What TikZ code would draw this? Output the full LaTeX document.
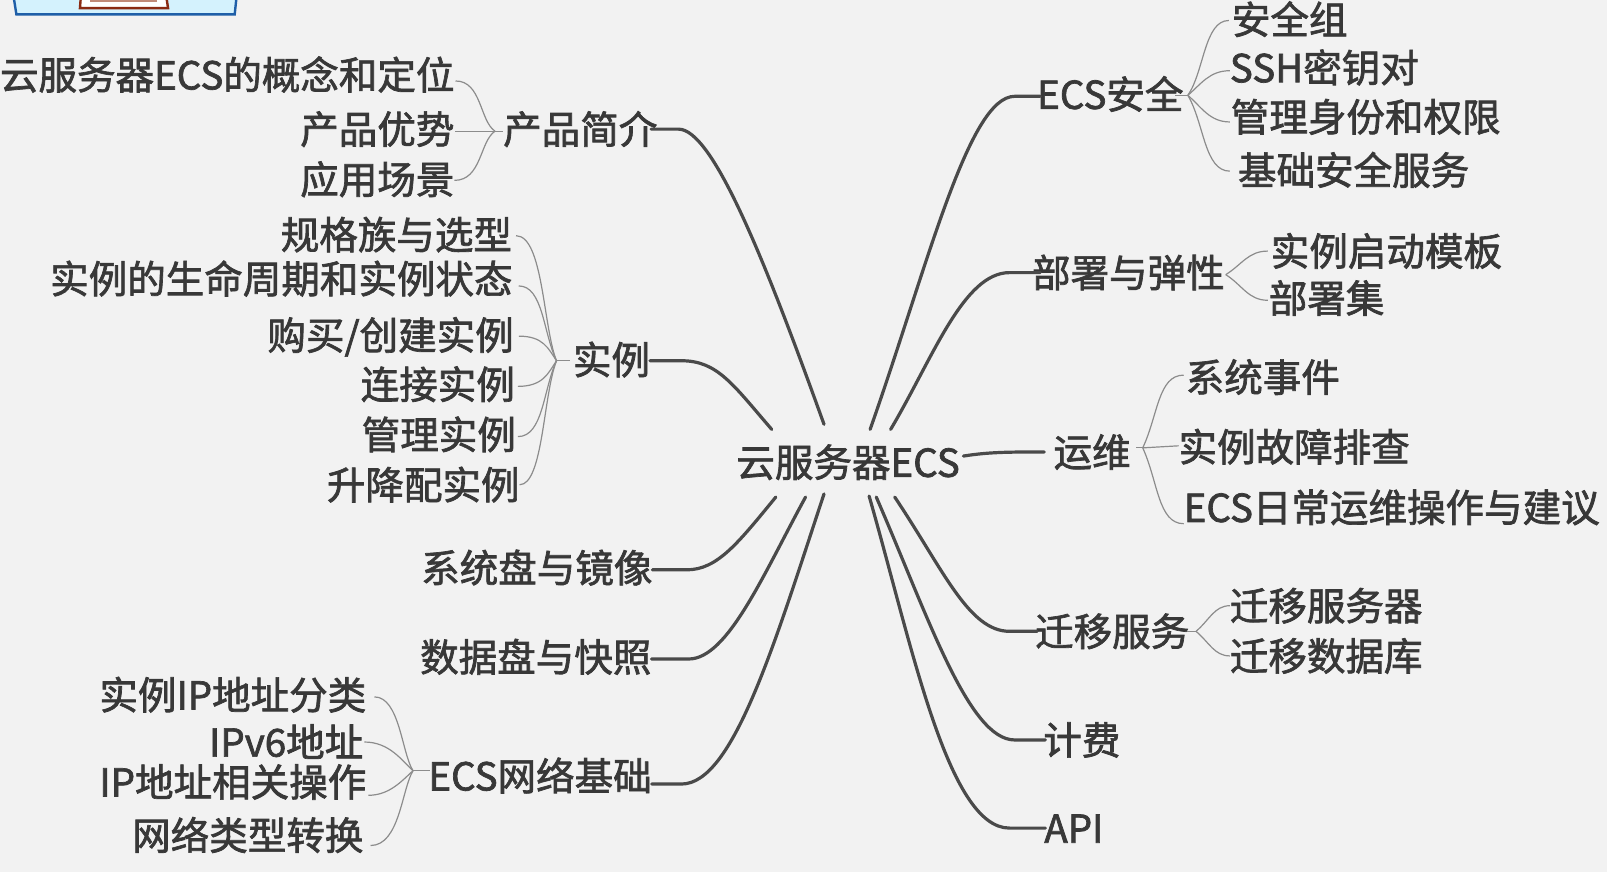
\documentclass[tikz,border=0pt]{standalone}
\usepackage{fontspec}
\setmainfont{Noto Sans CJK SC}[FakeBold=1.8]
\definecolor{bgc}{HTML}{F2F2F2}
\definecolor{txt}{HTML}{383838}
\definecolor{mainl}{HTML}{4A4A4A}
\definecolor{subl}{HTML}{8C8C8C}
\definecolor{fragfill}{HTML}{D4F2FD}
\definecolor{fragline}{HTML}{1F5FA8}
\definecolor{inline}{HTML}{8A2A12}
\definecolor{intan}{HTML}{C08A78}
\tikzset{
  lab/.style={inner sep=0pt,outer sep=0pt,text=txt,font=\fontsize{28.9pt}{30pt}\selectfont,text height=25.4pt,text depth=3.5pt,anchor=west},
  centerlab/.style={lab,anchor=center},
  mainc/.style={draw=mainl,line width=2.4pt,line cap=round},
  subc/.style={draw=subl,line width=0.9pt},
}
\begin{document}
\begin{tikzpicture}[x=0.76875pt,y=-0.76875pt]
\useasboundingbox[fill=bgc] (0,0) rectangle (1568,851);
% fragment at the top edge
\begin{scope}
\clip (0,0) rectangle (1568,851);
\filldraw[fill=fragfill,draw=fragline,line width=1.8pt] (13,-5) -- (16,14) -- (229,14) -- (231,-5) -- cycle;
\filldraw[fill=white,draw=inline,line width=1.8pt] (79,-5) -- (78,8) -- (164,8) -- (162,-5) -- cycle;
\fill[fill=intan] (88,-5) rectangle (153,2);
\end{scope}
% nodes
\node[centerlab] (c) at (827.5,451) {云服务器ECS};
\node[lab] (a) at (491,126) {产品简介};
\node[lab] (a1) at (0,73) {云服务器ECS的概念和定位};
\node[lab] (a2) at (293,126) {产品优势};
\node[lab] (a3) at (293,175) {应用场景};
\node[lab] (b) at (559,351) {实例};
\node[lab] (b1) at (274,229) {规格族与选型};
\node[lab] (b2) at (49,272) {实例的生命周期和实例状态};
\node[lab] (b3) at (261,327) {购买/创建实例};
\node[lab] (b4) at (352,375) {连接实例};
\node[lab] (b5) at (353,424) {管理实例};
\node[lab] (b6) at (319,473) {升降配实例};
\node[lab] (d) at (411,554) {系统盘与镜像};
\node[lab] (e) at (410,641) {数据盘与快照};
\node[lab] (f) at (418,757) {ECS网络基础};
\node[lab] (f1) at (97,678) {实例IP地址分类};
\node[lab] (f2) at (204,724) {IPv6地址};
\node[lab] (f3) at (97,763) {IP地址相关操作};
\node[lab] (f4) at (129,815) {网络类型转换};
\node[lab] (g) at (1012,92) {ECS安全};
\node[lab] (g1) at (1202,19) {安全组};
\node[lab] (g2) at (1200,66) {SSH密钥对};
\node[lab] (g3) at (1201,114) {管理身份和权限};
\node[lab] (g4) at (1208,166) {基础安全服务};
\node[lab] (h) at (1007,266) {部署与弹性};
\node[lab] (h1) at (1240,245) {实例启动模板};
\node[lab] (h2) at (1238,291) {部署集};
\node[lab] (i) at (1028,441) {运维};
\node[lab] (i1) at (1157,368) {系统事件};
\node[lab] (i2) at (1150,436) {实例故障排查};
\node[lab] (i3) at (1155,495) {ECS日常运维操作与建议};
\node[lab] (j) at (1010,616) {迁移服务};
\node[lab] (j1) at (1200,591) {迁移服务器};
\node[lab] (j2) at (1200,640) {迁移数据库};
\node[lab] (k) at (1018,722) {计费};
\node[lab] (l) at (1019,808) {API};
% main connectors
\draw[mainc] ([shift={(-23.5,-37)}]c.center) .. controls (745,250) and (695,126) .. (662,126) -- ([shift={(-6,0)}]a.east);
\draw[mainc] ([shift={(-74.5,-32)}]c.center) .. controls (715,375) and (700,352) .. (665,352) -- ([shift={(0,1)}]b.east);
\draw[mainc] ([shift={(-70.5,34)}]c.center) .. controls (720,530) and (700,556) .. (670,556) -- ([shift={(0,2)}]d.east);
\draw[mainc] ([shift={(-41.5,34)}]c.center) .. controls (745,560) and (710,643) .. (672,643) -- ([shift={(0,2)}]e.east);
\draw[mainc] ([shift={(-23.5,31)}]c.center) .. controls (755,630) and (715,765) .. (665,765) -- ([shift={(0,8)}]f.east);
\draw[mainc] ([shift={(21.5,-32)}]c.center) .. controls (905,260) and (945,94) .. (990,94) -- ([shift={(3,2)}]g.west);
\draw[mainc] ([shift={(41.5,-32)}]c.center) .. controls (910,350) and (940,266) .. (985,266) -- ([shift={(8,0)}]h.west);
\draw[mainc] ([shift={(112.5,-6)}]c.center) .. controls (965,441) and (985,441) .. ([shift={(-9,0)}]i.west);
\draw[mainc] ([shift={(45.5,34)}]c.center) .. controls (920,555) and (945,616) .. (985,616) -- ([shift={(2,0)}]j.west);
\draw[mainc] ([shift={(27.5,34)}]c.center) .. controls (905,600) and (945,722) .. (990,722) -- ([shift={(2,0)}]k.west);
\draw[mainc] ([shift={(20.5,33)}]c.center) .. controls (890,630) and (925,808) .. (985,808) -- ([shift={(1,0)}]l.west);
% hubs
\coordinate (ha) at (483,128);
\coordinate (hb) at (543,352);
\coordinate (hf) at (403,752);
\coordinate (hg) at (1159,93);
\coordinate (hh) at (1196,268);
\coordinate (hi) at (1115,437);
\coordinate (hj) at (1167,616);
% sub connectors, left side
\draw[subc] (ha) -- ([shift={(0,2)}]a.west);
\draw[subc] (ha) .. controls (468,118) and (470,79) .. ([shift={(1,6)}]a1.east);
\draw[subc] (ha) -- ([shift={(1,2)}]a2.east);
\draw[subc] (ha) .. controls (468,138) and (470,176) .. ([shift={(0,1)}]a3.east);
\draw[subc] (hb) -- ([shift={(-3,1)}]b.west);
\draw[subc] (hb) .. controls (530,320) and (530,230) .. ([shift={(4,1)}]b1.east);
\draw[subc] (hb) .. controls (530,325) and (530,279) .. ([shift={(6,7)}]b2.east);
\draw[subc] (hb) .. controls (535,340) and (530,328) .. ([shift={(5,1)}]b3.east);
\draw[subc] (hb) .. controls (535,364) and (530,377) .. ([shift={(3,2)}]b4.east);
\draw[subc] (hb) .. controls (530,380) and (530,426) .. ([shift={(2,2)}]b5.east);
\draw[subc] (hb) .. controls (530,385) and (530,473) .. (b6.east);
\draw[subc] (hf) -- ([shift={(2,-5)}]f.west);
\draw[subc] (hf) .. controls (392,735) and (390,680) .. ([shift={(8,2)}]f1.east);
\draw[subc] (hf) .. controls (392,742) and (380,724) .. ([shift={(1,0)}]f2.east);
\draw[subc] (hf) .. controls (392,762) and (380,776) .. ([shift={(2,13)}]f3.east);
\draw[subc] (hf) .. controls (392,770) and (390,825) .. ([shift={(7,10)}]f4.east);
% sub connectors, right side
\draw[subc] (hg) -- ([shift={(-8,1)}]g.east);
\draw[subc] (hg) .. controls (1175,70) and (1175,20) .. ([shift={(-3,1)}]g1.west);
\draw[subc] (hg) .. controls (1172,82) and (1180,69) .. ([shift={(0,3)}]g2.west);
\draw[subc] (hg) .. controls (1172,104) and (1180,119) .. ([shift={(-1,5)}]g3.west);
\draw[subc] (hg) .. controls (1175,120) and (1175,167) .. ([shift={(-8,1)}]g4.west);
\draw[subc] (hh) .. controls (1212,258) and (1218,245) .. ([shift={(-3,0)}]h1.west);
\draw[subc] (hh) .. controls (1212,278) and (1218,293) .. ([shift={(-1,2)}]h2.west);
\draw[subc] (hi) -- ([shift={(5,-4)}]i.east);
\draw[subc] (hi) .. controls (1130,405) and (1130,366) .. ([shift={(-2,-2)}]i1.west);
\draw[subc] (hi) -- ([shift={(0,-1)}]i2.west);
\draw[subc] (hi) .. controls (1130,470) and (1130,511) .. ([shift={(0,16)}]i3.west);
\draw[subc] (hj) -- ([shift={(-2,0)}]j.east);
\draw[subc] (hj) .. controls (1180,605) and (1185,591) .. (j1.west);
\draw[subc] (hj) .. controls (1180,627) and (1185,640) .. (j2.west);
\end{tikzpicture}
\end{document}
